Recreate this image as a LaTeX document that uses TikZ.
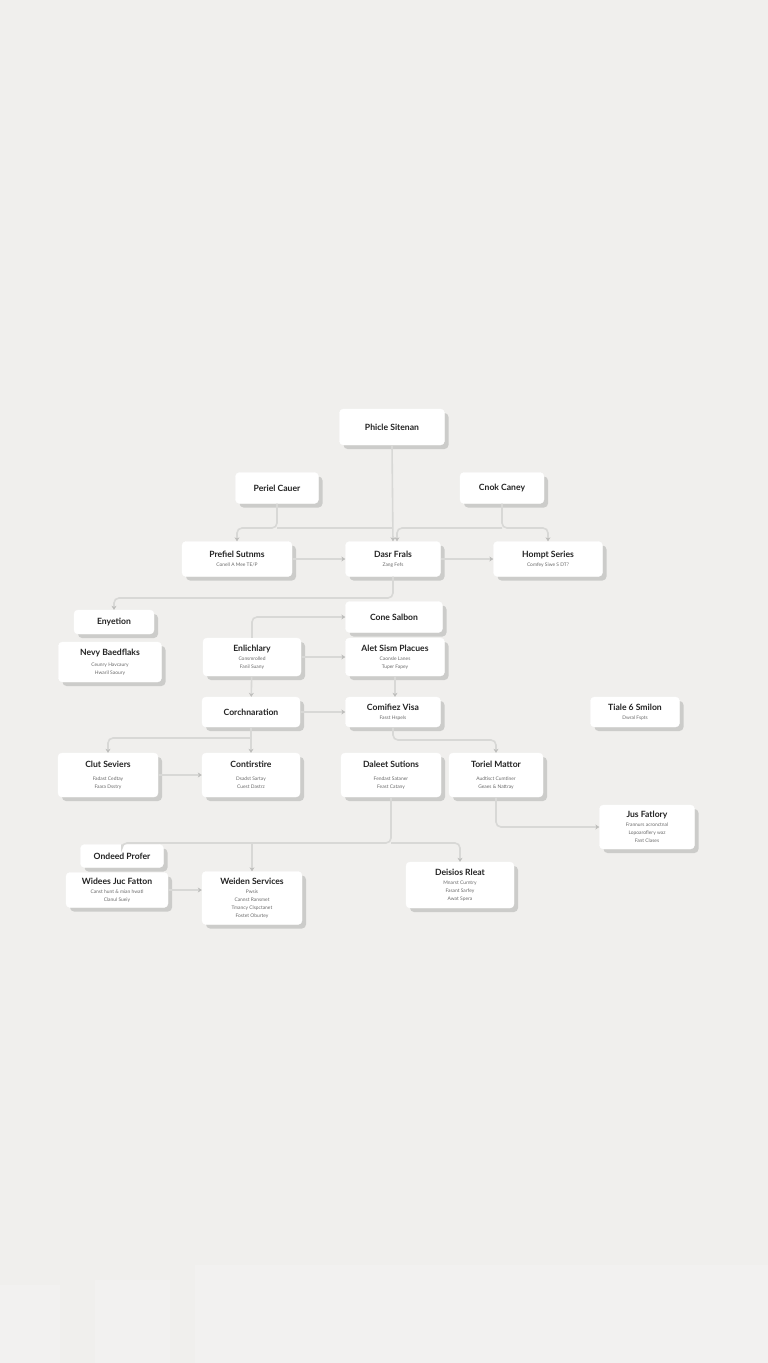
\documentclass[tikz,border=0pt]{standalone}
\usepackage{fontspec}
\setmainfont{Lato}
\usepackage{xcolor}
\usepackage{tikz}
\usetikzlibrary{positioning,calc,shadows,arrows.meta}

\definecolor{bgpaper}{RGB}{240,239,237}
\definecolor{linkgray}{RGB}{216,216,214}
\definecolor{tipgray}{RGB}{190,190,188}
\definecolor{shadegray}{RGB}{204,204,202}
\definecolor{titlegray}{RGB}{35,35,35}
\definecolor{subgray}{RGB}{105,105,105}
\newcommand{\subtx}[1]{{\mdseries\fontsize{4.9}{5.8}\selectfont\color{subgray}#1}}

\begin{document}
\begin{tikzpicture}[
        x=1pt, y=-1pt,
        box/.style={draw=white, fill=white, rounded corners=4pt, align=center,
            text=titlegray, font=\fontsize{8.6}{10}\selectfont\bfseries,
            general shadow={fill=shadegray, shadow xshift=4pt, shadow yshift=-4pt}},
        link/.style={draw=linkgray, line width=1.6pt, rounded corners=5pt},
        arr/.style={link, -{Stealth[length=4pt,width=5pt,color=tipgray]}}
    ]
    % paper and window light
    \fill[bgpaper] (0,0) rectangle (768,1363);
    \fill[white, opacity=0.18] (0,1285) rectangle (60,1363);
    \fill[white, opacity=0.18] (95,1280) rectangle (170,1363);
    \fill[white, opacity=0.18] (195,1265) rectangle (768,1363);
    \useasboundingbox (0,0) rectangle (768,1363);

    % top rows
    \node[box, minimum width=105, minimum height=36] (phicle) at (392,427) {Phicle Sitenan};
    \node[box, minimum width=83, minimum height=31] (periel) at (277,488) {Periel Cauer};
    \node[box, minimum width=84, minimum height=31] (cnok) at (502,488) {Cnok Caney};
    \node[box, minimum width=110, minimum height=35] (prefiel) at (237,559) {Prefiel Sutnms\\[-1pt]\subtx{Conell A Mee TE/P}};
    \node[box, minimum width=95, minimum height=35] (dasr) at (393,559) {Dasr Frals\\[-1pt]\subtx{Zang Fefs}};
    \node[box, minimum width=109, minimum height=35] (hompt) at (548,559) {Hompt Series\\[-1pt]\subtx{Comfey Siwe S DT?}};

    % middle rows
    \node[box, minimum width=80, minimum height=24] (enyetion) at (114,622) {Enyetion};
    \node[box, minimum width=97, minimum height=31] (cone) at (394,617) {Cone Salbon};
    \node[box, minimum width=103, minimum height=40] (nevy) at (110,662) {Nevy Baedflaks\\[1pt]\subtx{Ceunry Havcaury}\\[-2pt]\subtx{Hwaril Saoury}};
    \node[box, minimum width=98, minimum height=38] (enlich) at (252,657) {Enlichlary\\[-1pt]\subtx{Consmrolled}\\[-2pt]\subtx{Fanil Suany}};
    \node[box, minimum width=99, minimum height=38] (alet) at (395,657) {Alet Sism Placues\\[-1pt]\subtx{Caonsle Lanes}\\[-2pt]\subtx{Tuper Fapey}};
    \node[box, minimum width=98, minimum height=30] (corch) at (251,712) {Corchnaration};
    \node[box, minimum width=95, minimum height=30] (comif) at (393,712) {Comifiez Visa\\[-1pt]\subtx{Fasst Hspels}};
    \node[box, minimum width=89, minimum height=30] (tiale) at (635,712) {Tiale 6 Smilon\\[-1pt]\subtx{Dwral Fspts}};

    % lower rows
    \node[box, minimum width=100, minimum height=44] (clut) at (108,775) {Clut Seviers\\[3pt]\subtx{Fadast Cedtay}\\[-2pt]\subtx{Faara Dsstry}};
    \node[box, minimum width=98, minimum height=44] (contir) at (251,775) {Contirstire\\[3pt]\subtx{Dsadst Sartay}\\[-2pt]\subtx{Cuest Dastrz}};
    \node[box, minimum width=100, minimum height=44] (daleet) at (391,775) {Daleet Sutions\\[3pt]\subtx{Fendast Sataner}\\[-2pt]\subtx{Feast Catany}};
    \node[box, minimum width=94, minimum height=44] (toriel) at (496,775) {Toriel Mattor\\[3pt]\subtx{Audtisct Cumtiner}\\[-2pt]\subtx{Geaes \& Nattray}};
    \node[box, minimum width=95, minimum height=44] (jus) at (647,827) {Jus Fatlory\\[-1pt]\subtx{Frannurs acronctnal}\\[-2pt]\subtx{Lopoaroflery waz}\\[-2pt]\subtx{Fant Clases}};
    \node[box, minimum width=83, minimum height=23] (ondeed) at (122,856) {Ondeed Profer};
    \node[box, minimum width=102, minimum height=35] (widees) at (117,890) {Widees Juc Fatton\\[-1pt]\subtx{Canst hunt \& mian hwatl}\\[-2pt]\subtx{Clanul Sueiy}};
    \node[box, minimum width=100, minimum height=53] (weiden) at (252,898) {Weiden Services\\[-1pt]\subtx{Pwsis}\\[-2pt]\subtx{Cannst Ransmet}\\[-2pt]\subtx{Tmancy Clspctanet}\\[-2pt]\subtx{Fostet Oburtey}};
    \node[box, minimum width=108, minimum height=46] (deisios) at (460,885) {Deisios Rleat\\[-1pt]\subtx{Mnarst Curntry}\\[-2pt]\subtx{Fasant Sarfey}\\[-2pt]\subtx{Awat Spera}};

    % junction levels
    \coordinate (j1) at (0,528);
    \coordinate (j2) at (0,598);
    \coordinate (j3) at (0,738);
    \coordinate (j4) at (0,740);
    \coordinate (j5) at (0,843);

    % connectors
    \draw[arr] (phicle.south) -- (dasr.north);
    \draw[arr] (periel.south) -- (periel.south |- j1) -| (prefiel.north);
    \draw[link] (periel.south |- j1) -- (dasr.north |- j1);
    \draw[arr] (cnok.south) -- (cnok.south |- j1) -| (hompt.north);
    \draw[arr] (cnok.south |- j1) -| ([xshift=4pt]dasr.north);
    \draw[arr] (prefiel) -- (dasr);
    \draw[arr] (dasr) -- (hompt);
    \draw[arr] (dasr.south) -- (dasr.south |- j2) -| (enyetion.north);
    \draw[arr] (enlich.north) |- (cone.west);
    \draw[arr] (enlich) -- (alet);
    \draw[arr] (enlich) -- (corch);
    \draw[arr] (alet.south) -- (alet.south |- comif.north);
    \draw[arr] (corch) -- (comif);
    \draw[arr] (corch) -- (contir);
    \draw[arr] (corch.south |- j3) -| (clut.north);
    \draw[arr] (clut) -- (contir);
    \draw[arr] (comif.south) -- (comif.south |- j4) -| (toriel.north);
    \draw[arr] (toriel.south) |- (jus.west);
    \draw[link] (daleet.south) -- (daleet.south |- j5) -| (ondeed.north);
    \draw[arr] (weiden.north |- j5) -- (weiden.north);
    \draw[arr] (daleet.south |- j5) -| (deisios.north);
    \draw[arr] (widees.east) -- (widees.east -| weiden.west);
\end{tikzpicture}
\end{document}
